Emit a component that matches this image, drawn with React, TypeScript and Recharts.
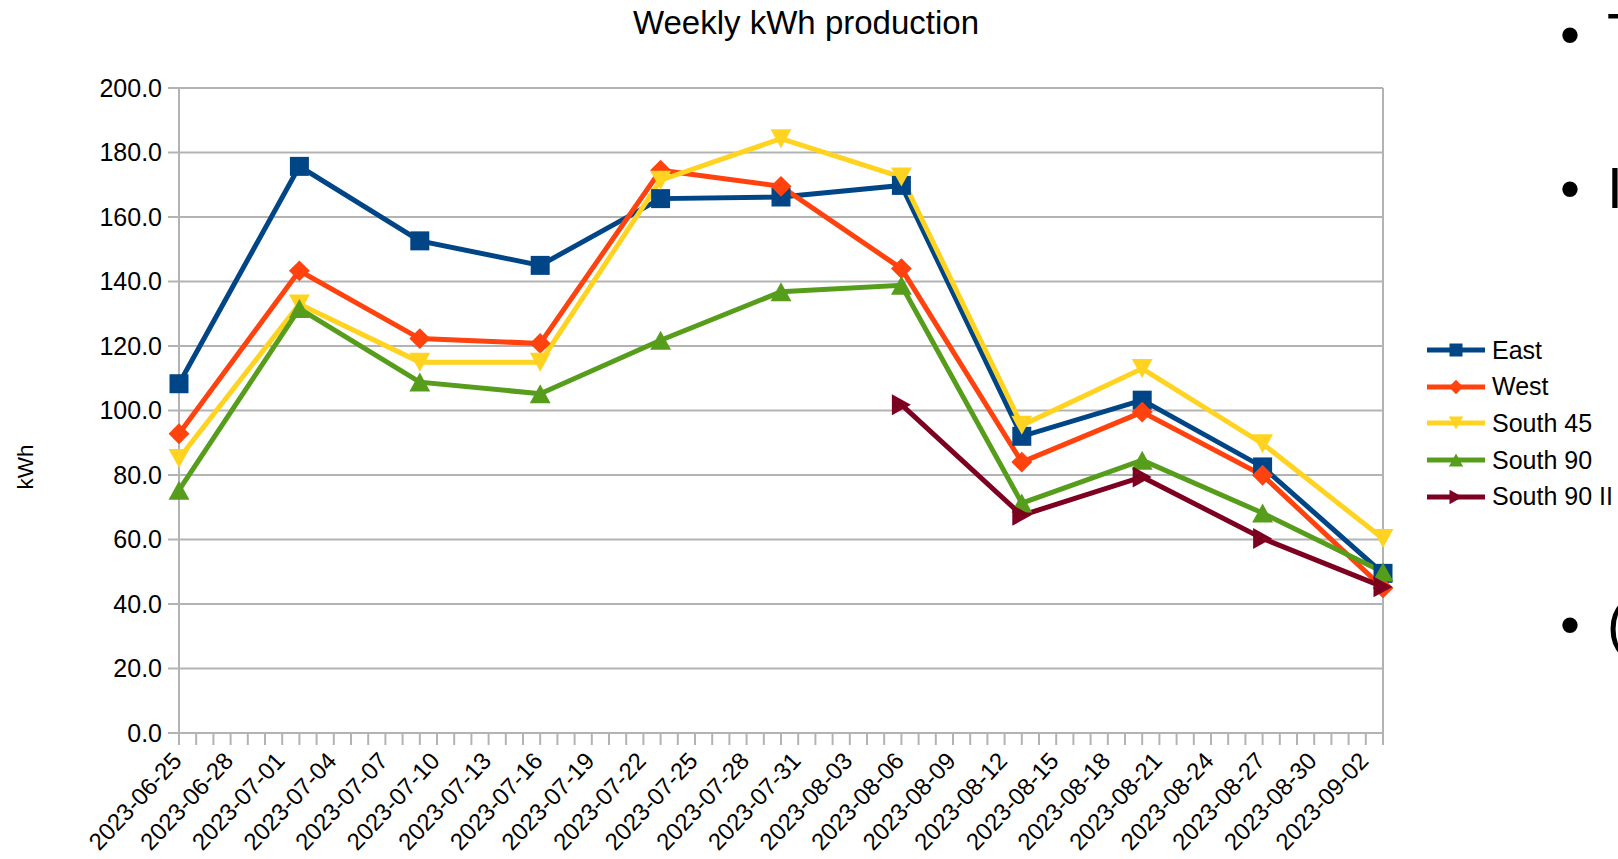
import React from 'react';
import { LineChart, Line, XAxis, YAxis, CartesianGrid, ReferenceLine, Legend } from 'recharts';

// ---- data ----
const weeks = ['2023-06-25', '2023-07-02', '2023-07-09', '2023-07-16', '2023-07-23', '2023-07-30', '2023-08-06', '2023-08-13', '2023-08-20', '2023-08-27', '2023-09-03'];
const east = [108.3, 175.7, 152.6, 145.0, 165.7, 166.2, 169.8, 92.0, 103.2, 82.5, 49.5];
const west = [92.8, 143.3, 122.3, 120.8, 174.5, 169.5, 144.0, 84.0, 99.5, 79.9, 45.0];
const south45 = [85.1, 133.0, 115.0, 115.0, 171.4, 184.3, 172.4, 95.4, 113.0, 89.7, 60.3];
const south90 = [75.3, 131.6, 108.8, 105.2, 121.8, 136.8, 138.8, 71.3, 84.6, 68.2, 49.9];
const south90ii: (number | null)[] = [null, null, null, null, null, null, 101.8, 67.5, 79.4, 60.3, 45.3];

const tickLabels = ['2023-06-25', '2023-06-28', '2023-07-01', '2023-07-04', '2023-07-07', '2023-07-10', '2023-07-13', '2023-07-16', '2023-07-19', '2023-07-22', '2023-07-25', '2023-07-28', '2023-07-31', '2023-08-03', '2023-08-06', '2023-08-09', '2023-08-12', '2023-08-15', '2023-08-18', '2023-08-21', '2023-08-24', '2023-08-27', '2023-08-30', '2023-09-02'];
const yTicks = [0, 20, 40, 60, 80, 100, 120, 140, 160, 180, 200];
const AXIS_START = '2023-06-25';
const AXIS_END = '2023-09-03';

const seriesDefs = [
  { key: 'east', name: 'East', color: '#004586', shape: 'square' },
  { key: 'west', name: 'West', color: '#ff420e', shape: 'diamond' },
  { key: 'south45', name: 'South 45', color: '#ffd320', shape: 'down' },
  { key: 'south90', name: 'South 90', color: '#579d1c', shape: 'up' },
  { key: 'south90ii', name: 'South 90 II', color: '#7e0021', shape: 'right' },
];

const FONT = '"Liberation Sans", Arial, sans-serif';
const GRID = '#b3b3b3';

const dayOf = (s: string) =>
  Math.round((Date.parse(s + 'T00:00:00Z') - Date.parse(AXIS_START + 'T00:00:00Z')) / 86400000);

const table = weeks.map((w, i) => ({
  t: dayOf(w),
  east: east[i],
  west: west[i],
  south45: south45[i],
  south90: south90[i],
  south90ii: south90ii[i],
}));

const allDays = Array.from({ length: dayOf(AXIS_END) + 1 }, (_, i) => i);
const labelByDay: Record<number, string> = {};
tickLabels.forEach((l) => {
  labelByDay[dayOf(l)] = l;
});

function markerPath(shape: string, cx: number, cy: number, r: number) {
  switch (shape) {
    case 'square':
      return `M${cx - r},${cy - r}H${cx + r}V${cy + r}H${cx - r}Z`;
    case 'diamond':
      return `M${cx},${cy - r * 1.1}L${cx + r * 1.1},${cy}L${cx},${cy + r * 1.1}L${cx - r * 1.1},${cy}Z`;
    case 'down':
      return `M${cx - r * 1.1},${cy - r}L${cx + r * 1.1},${cy - r}L${cx},${cy + r}Z`;
    case 'up':
      return `M${cx},${cy - r}L${cx + r * 1.1},${cy + r}L${cx - r * 1.1},${cy + r}Z`;
    case 'right':
      return `M${cx - r},${cy - r * 1.1}L${cx + r},${cy}L${cx - r},${cy + r * 1.1}Z`;
    default:
      return '';
  }
}

const XTick = (props: any) => {
  const { x, y, payload } = props;
  const label = labelByDay[payload.value];
  if (!label) return <g />;
  const ax = x + 4;
  const ay = y + 15;
  return (
    <text x={ax} y={ay} transform={`rotate(-47, ${ax}, ${ay})`} textAnchor="end" fontSize={24} fill="#000" fontFamily={FONT}>
      {label}
    </text>
  );
};

const LegendContent = () => (
  <div style={{ fontFamily: FONT, fontSize: 25, color: '#000' }}>
    {seriesDefs.map((s) => (
      <div key={s.key} style={{ display: 'flex', alignItems: 'center', height: 36.6 }}>
        <svg width={60} height={30} style={{ display: 'block' }}>
          <line x1={0} y1={15} x2={58} y2={15} stroke={s.color} strokeWidth={5} />
          <path d={markerPath(s.shape, 29, 15, 6.5)} fill={s.color} />
        </svg>
        <span style={{ marginLeft: 5, lineHeight: 1, whiteSpace: 'nowrap' }}>{s.name}</span>
      </div>
    ))}
  </div>
);

export default function App() {
  return (
    <div style={{ position: 'absolute', left: 0, top: 0, width: 1618, height: 859, overflow: 'hidden', background: '#fff' }}>
      <LineChart width={1618} height={859} data={table} margin={{ top: 88, right: 235, bottom: 0, left: 0 }}>
        <CartesianGrid vertical={false} stroke={GRID} strokeWidth={2} />
        <XAxis
          type="number"
          dataKey="t"
          domain={[0, 70]}
          ticks={allDays}
          interval={0}
          tickSize={12}
          height={126}
          tick={<XTick />}
          axisLine={{ stroke: GRID, strokeWidth: 2 }}
          tickLine={{ stroke: GRID, strokeWidth: 2 }}
        />
        <YAxis
          type="number"
          domain={[0, 200]}
          ticks={yTicks}
          interval={0}
          width={179}
          tickSize={11}
          tickMargin={6}
          tickFormatter={(v: number) => v.toFixed(1)}
          tick={{ fill: '#000', fontSize: 25, fontFamily: FONT }}
          axisLine={{ stroke: GRID, strokeWidth: 2 }}
          tickLine={{ stroke: GRID, strokeWidth: 2 }}
          label={{
            content: () => (
              <text x={25} y={467} transform="rotate(-90, 25, 467)" textAnchor="middle" dominantBaseline="central" fontSize={22.5} fill="#000" fontFamily={FONT}>
                kWh
              </text>
            ),
          }}
        />
        <ReferenceLine x={70} stroke={GRID} strokeWidth={2} />
        {seriesDefs.map((s) => (
          <Line
            key={s.key}
            dataKey={s.key}
            name={s.name}
            stroke={s.color}
            strokeWidth={5}
            type="linear"
            connectNulls={false}
            isAnimationActive={false}
            activeDot={false}
            dot={(p: any) =>
              p.cy == null || p.cx == null || p.value == null ? (
                <g key={`${s.key}-d-${p.index}`} />
              ) : (
                <path key={`${s.key}-d-${p.index}`} d={markerPath(s.shape, p.cx, p.cy, 9.5)} fill={s.color} />
              )
            }
          />
        ))}
        <Legend
          layout="horizontal"
          verticalAlign="middle"
          align="center"
          content={<LegendContent />}
          wrapperStyle={{ left: 1427, top: 332, width: 191, height: 183 }}
        />
      </LineChart>
      <svg width={1618} height={859} style={{ position: 'absolute', left: 0, top: 0, pointerEvents: 'none' }}>
        <text x={806} y={34} textAnchor="middle" fontSize={33} fill="#000" fontFamily={FONT}>
          Weekly kWh production
        </text>
        <g fontFamily={FONT} fontSize={57} fill="#000">
          <text x={1570} y={54} textAnchor="middle">•</text>
          <text x={1607} y={54}>T</text>
          <text x={1570} y={208} textAnchor="middle">•</text>
          <text x={1607} y={208}>I</text>
          <text x={1570} y={644} textAnchor="middle">•</text>
          <text x={1607} y={644}>(</text>
        </g>
      </svg>
    </div>
  );
}
